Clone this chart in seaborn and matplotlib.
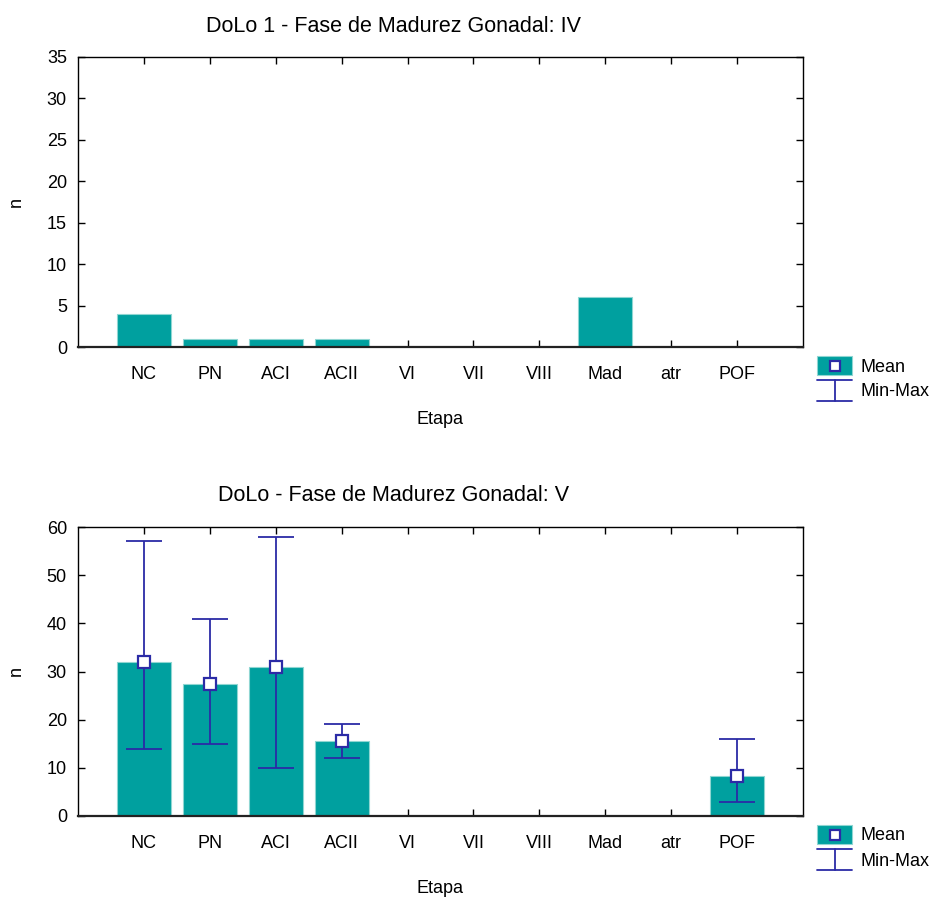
import numpy as np
import pandas as pd
import matplotlib
matplotlib.use("Agg")
import matplotlib.pyplot as plt
import seaborn as sns
from matplotlib.lines import Line2D
from matplotlib.patches import Rectangle

# Data
etapas = ["NC", "PN", "ACI", "ACII", "VI", "VII", "VIII", "Mad", "atr", "POF"]
n_fase_iv = [4, 1, 1, 1, 0, 0, 0, 6, 0, 0]
mean_fase_v = [31.9, 27.5, 31.0, 15.5, 0, 0, 0, 0, 0, 8.3]
min_fase_v = [14, 15, 10, 12, np.nan, np.nan, np.nan, np.nan, np.nan, 3]
max_fase_v = [57, 41, 58, 19, np.nan, np.nan, np.nan, np.nan, np.nan, 16]

BAR = "#00a09f"
BAR_EDGE = "#8fd6d2"
ERR = "#2b2ba6"

W, H = 932, 900

sns.set_style("white")
plt.rcParams["font.family"] = ["Liberation Sans", "DejaVu Sans"]
plt.rcParams["text.color"] = "black"
plt.rcParams["axes.labelcolor"] = "black"
FS = 13


def fx(px):
    return px / W


def fy(py):
    return 1 - py / H


def style_axes(ax, ymax, ystep):
    ax.set_xlim(-1, len(etapas))
    ax.set_ylim(0, ymax)
    ax.set_yticks(np.arange(0, ymax + 1, ystep))
    ax.set_xticks(np.arange(len(etapas)))
    ax.set_xticklabels(etapas)
    ax.tick_params(direction="in", length=5, width=1, top=True, right=True,
                   left=True, bottom=True, labelsize=FS, colors="black")
    ax.tick_params(axis="x", pad=14)
    ax.tick_params(axis="y", pad=8)
    for s in ax.spines.values():
        s.set_color("black")
        s.set_linewidth(1.0)
    ax.spines["bottom"].set_linewidth(1.6)
    ax.spines["bottom"].set_color("#222222")
    ax.set_xlabel("Etapa", fontsize=FS)
    ax.set_ylabel("n", fontsize=FS)
    ax.xaxis.set_label_coords(0.5, -0.222)
    ax.yaxis.set_label_coords(-0.073, 0.5)


def add_key(fig, y0):
    # Mean key: filled patch with square marker
    fig.add_artist(Rectangle((fx(817), fy(y0 + 19)), fx(35), 19 / H,
                             facecolor=BAR, edgecolor=BAR_EDGE, lw=0.8,
                             transform=fig.transFigure))
    fig.add_artist(Line2D([fx(834.5)], [fy(y0 + 10)], marker="s",
                          markersize=7.5, markerfacecolor="white",
                          markeredgecolor=ERR, markeredgewidth=1.6,
                          transform=fig.transFigure))
    fig.text(fx(860), fy(y0 + 11), "Mean", fontsize=FS, va="center",
             ha="left")
    # Min-Max key: I-beam
    t, b = y0 + 24, y0 + 45
    for xs, ys in (([817, 852], [t, t]), ([817, 852], [b, b]),
                   ([834.5, 834.5], [t, b])):
        fig.add_artist(Line2D([fx(v) for v in xs], [fy(v) for v in ys],
                              color=ERR, lw=1.3, transform=fig.transFigure))
    fig.text(fx(860), fy(y0 + 36), "Min-Max", fontsize=FS, va="center",
             ha="left")


fig = plt.figure(figsize=(W / 100, H / 100), dpi=100)
ax1 = fig.add_axes([fx(78), fy(347), fx(725), 290 / H])
ax2 = fig.add_axes([fx(78), fy(816), fx(725), 289 / H])

df1 = pd.DataFrame({"Etapa": etapas, "n": n_fase_iv})
sns.barplot(data=df1, x="Etapa", y="n", order=etapas, ax=ax1, color=BAR,
            saturation=1, width=0.82, edgecolor=BAR_EDGE, linewidth=0.8,
            errorbar=None)
style_axes(ax1, 35, 5)

df2 = pd.DataFrame({"Etapa": etapas, "n": mean_fase_v})
sns.barplot(data=df2, x="Etapa", y="n", order=etapas, ax=ax2, color=BAR,
            saturation=1, width=0.82, edgecolor=BAR_EDGE, linewidth=0.8,
            errorbar=None)
pos = np.arange(len(etapas))
mean_arr = np.array(mean_fase_v, dtype=float)
lo = np.array(min_fase_v, dtype=float)
hi = np.array(max_fase_v, dtype=float)
has = ~np.isnan(lo)
ax2.errorbar(pos[has], mean_arr[has],
             yerr=[mean_arr[has] - lo[has], hi[has] - mean_arr[has]],
             fmt="none", ecolor=ERR, elinewidth=1.3, capsize=13.3, capthick=1.3,
             zorder=3)
ax2.plot(pos[has], mean_arr[has], linestyle="none", marker="s", markersize=8,
         markerfacecolor="white", markeredgecolor=ERR, markeredgewidth=1.6,
         zorder=4)
style_axes(ax2, 60, 10)

add_key(fig, 356)
add_key(fig, 825)

fig.text(0.422, fy(26), "DoLo 1 - Fase de Madurez Gonadal: IV", ha="center",
         va="center", fontsize=15.5)
fig.text(0.422, fy(495), "DoLo - Fase de Madurez Gonadal: V", ha="center",
         va="center", fontsize=15.5)

fig.savefig("out.png", dpi=100, facecolor="white")
